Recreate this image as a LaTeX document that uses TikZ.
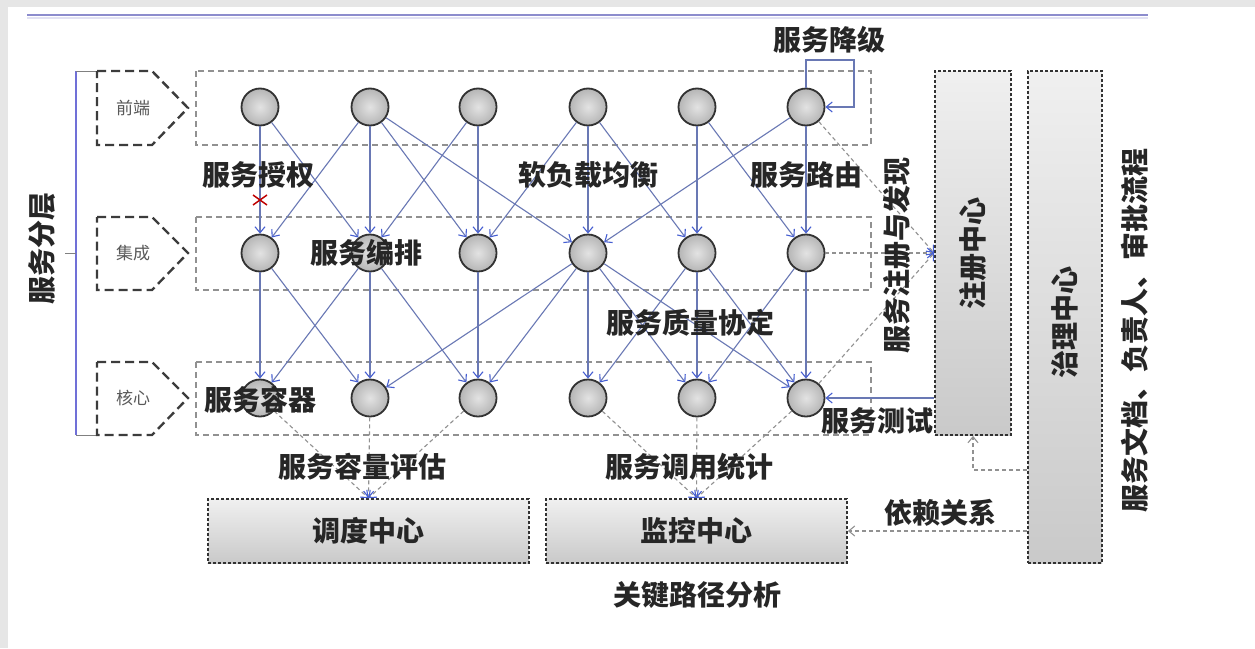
\documentclass[tikz,border=0pt]{standalone}
\usepackage{fontspec}
\newfontfamily\cjk{Noto Sans CJK SC}
\usetikzlibrary{arrows.meta,calc}
\definecolor{edgeblue}{RGB}{105,120,180}
\definecolor{tipblue}{RGB}{70,95,210}
\definecolor{dashgray}{RGB}{145,145,145}
\definecolor{bggray}{RGB}{230,230,230}
\definecolor{linepurple}{RGB}{140,140,205}
\definecolor{darkline}{RGB}{50,50,50}
\definecolor{pentgray}{RGB}{60,60,60}
\tikzset{
  ball/.style={circle, draw=darkline, line width=1.8pt, minimum size=37pt, inner sep=0pt,
    inner color=gray!22, outer color=gray!58},
  lab/.style={font={\cjk\bfseries\fontsize{28}{30}\selectfont}, inner sep=0pt, text=black!85},
  smalllab/.style={font={\cjk\fontsize{17}{19}\selectfont}, inner sep=0pt, text=black!65},
  rowbox/.style={draw=dashgray, line width=1.1pt, dash pattern=on 6pt off 4pt},
  penta/.style={draw=pentgray, line width=2.4pt, dash pattern=on 9pt off 5pt},
  bigbox/.style={draw=darkline, line width=1.8pt, dash pattern=on 3pt off 2pt,
    top color=gray!12, bottom color=gray!42, inner sep=0pt,
    font={\cjk\bfseries\fontsize{28}{30}\selectfont}, text=black!85},
  flow/.style={draw=edgeblue, line width=1.1pt, -{Straight Barb[length=6pt,width=10pt,color=tipblue]}},
  dashflow/.style={draw=dashgray, line width=1.1pt, dash pattern=on 4pt off 3pt,
    -{Straight Barb[length=6pt,width=10pt,color=tipblue]}},
  depflow/.style={draw=dashgray, line width=1.1pt, dash pattern=on 4pt off 3pt,
    -{Straight Barb[length=6pt,width=10pt,color=dashgray]}},
}
\begin{document}
\begin{tikzpicture}[x=1pt,y=-1pt]
\useasboundingbox (0,0) rectangle (1255,648);
\fill[bggray] (0,0) rectangle (1255,648);
\fill[white] (8,7) rectangle (1255,648);
% top rule
\draw[linepurple, line width=2.4pt] (27,15) -- (1148,15);
\draw[linepurple!25, line width=1.5pt] (27,18) -- (1148,18);

% layer bracket
\draw[linepurple!80!blue, line width=1.4pt] (76,71) -- (76,435);
\draw[gray, line width=1pt] (76,71) -- (97,71) (76,435) -- (97,435) (65,253) -- (76,253);
\node[lab, rotate=90] (fc) at (42,248) {服务分层};

% pentagons
\draw[penta] (97,71) -- (152,71) -- (188,108) -- (152,145) -- (97,145) -- cycle;
\draw[penta] (97,217) -- (152,217) -- (188,253) -- (152,290) -- (97,290) -- cycle;
\draw[penta] (97,362) -- (152,362) -- (188,398) -- (152,435) -- (97,435) -- cycle;
\node[smalllab] (p1) at (133,108) {前端};
\node[smalllab] (p2) at (133,253) {集成};
\node[smalllab] (p3) at (133,398) {核心};

% row boxes
\draw[rowbox] (196,71) rectangle (871,145);
\draw[rowbox] (196,217) rectangle (871,290);
\draw[rowbox] (196,362) rectangle (871,435);

% circles
\foreach \i/\x in {1/260,2/370,3/478,4/588,5/697,6/806}{
  \node[ball] (t\i) at (\x,107) {};
  \node[ball] (m\i) at (\x,253) {};
  \node[ball] (b\i) at (\x,398) {};
}

% edges top -> middle
\foreach \a/\b in {1/1,1/2,2/1,2/2,2/3,2/4,3/2,3/3,4/3,4/4,4/5,5/5,5/6,6/4,6/6}{
  \draw[flow] (t\a) -- (m\b);
}
% edges middle -> bottom
\foreach \a/\b in {1/1,1/2,2/1,2/2,2/3,3/3,4/2,4/3,4/4,4/5,4/6,5/4,5/5,5/6,6/5,6/6}{
  \draw[flow] (m\a) -- (b\b);
}
% red cross on authorised edge
\draw[red!75!black, line width=1.5pt] (253,195) -- (267,205) (253,205) -- (267,195);

% self loop (degradation)
\draw[flow] (t6.north) |- (854,60) |- (t6.east);

% right boxes
\node[bigbox, minimum width=76pt, minimum height=364pt] (zc) at (973,253) {};
\node[lab, rotate=90] (zct) at (973,253) {注册中心};
\node[bigbox, minimum width=74pt, minimum height=492pt] (zl) at (1065,317) {};
\node[lab, rotate=90] (zlt) at (1065,322) {治理中心};
\node[lab, rotate=90] (doc) at (1135,330) {服务文档、负责人、审批流程};

% bottom boxes
\node[bigbox, minimum width=321pt, minimum height=64pt] (dd) at (368.5,531) {调度中心};
\node[bigbox, minimum width=301pt, minimum height=64pt] (jk) at (696.5,531) {监控中心};

% registration & discovery
\draw[dashflow] (t6) -- (zc.west);
\draw[dashflow] (m6) -- (zc.west);
\draw[dashflow] (b6) -- (zc.west);
% service test
\draw[flow] (zc.west |- b6) -- (b6);

% capacity / statistics
\foreach \k in {1,2,3}{ \draw[dashflow] (b\k) -- (dd.north); }
\foreach \k in {4,5,6}{ \draw[dashflow] (b\k) -- (jk.north); }

% governance dependencies
\draw[depflow] (zl.west |- 0,470) -| (zc.south);
\draw[depflow] (zl.west |- jk.east) -- (jk.east);

% labels
\node[lab] (l1) at (829,40) {服务降级};
\node[lab] (l2) at (258,175) {服务授权};
\node[lab] (l3) at (588,175) {软负载均衡};
\node[lab] (l4) at (806,175) {服务路由};
\node[lab] (l5) at (366,253) {服务编排};
\node[lab] (l6) at (690,323) {服务质量协定};
\node[lab] (l7) at (260,400) {服务容器};
\node[lab] (l8) at (877,421) {服务测试};
\node[lab] (l9) at (362,467) {服务容量评估};
\node[lab] (l10) at (689,467) {服务调用统计};
\node[lab] (l11) at (940,513) {依赖关系};
\node[lab] (l12) at (697,595) {关键路径分析};
\node[lab, rotate=90] (l13) at (897,255) {服务注册与发现};
\end{tikzpicture}
\end{document}
